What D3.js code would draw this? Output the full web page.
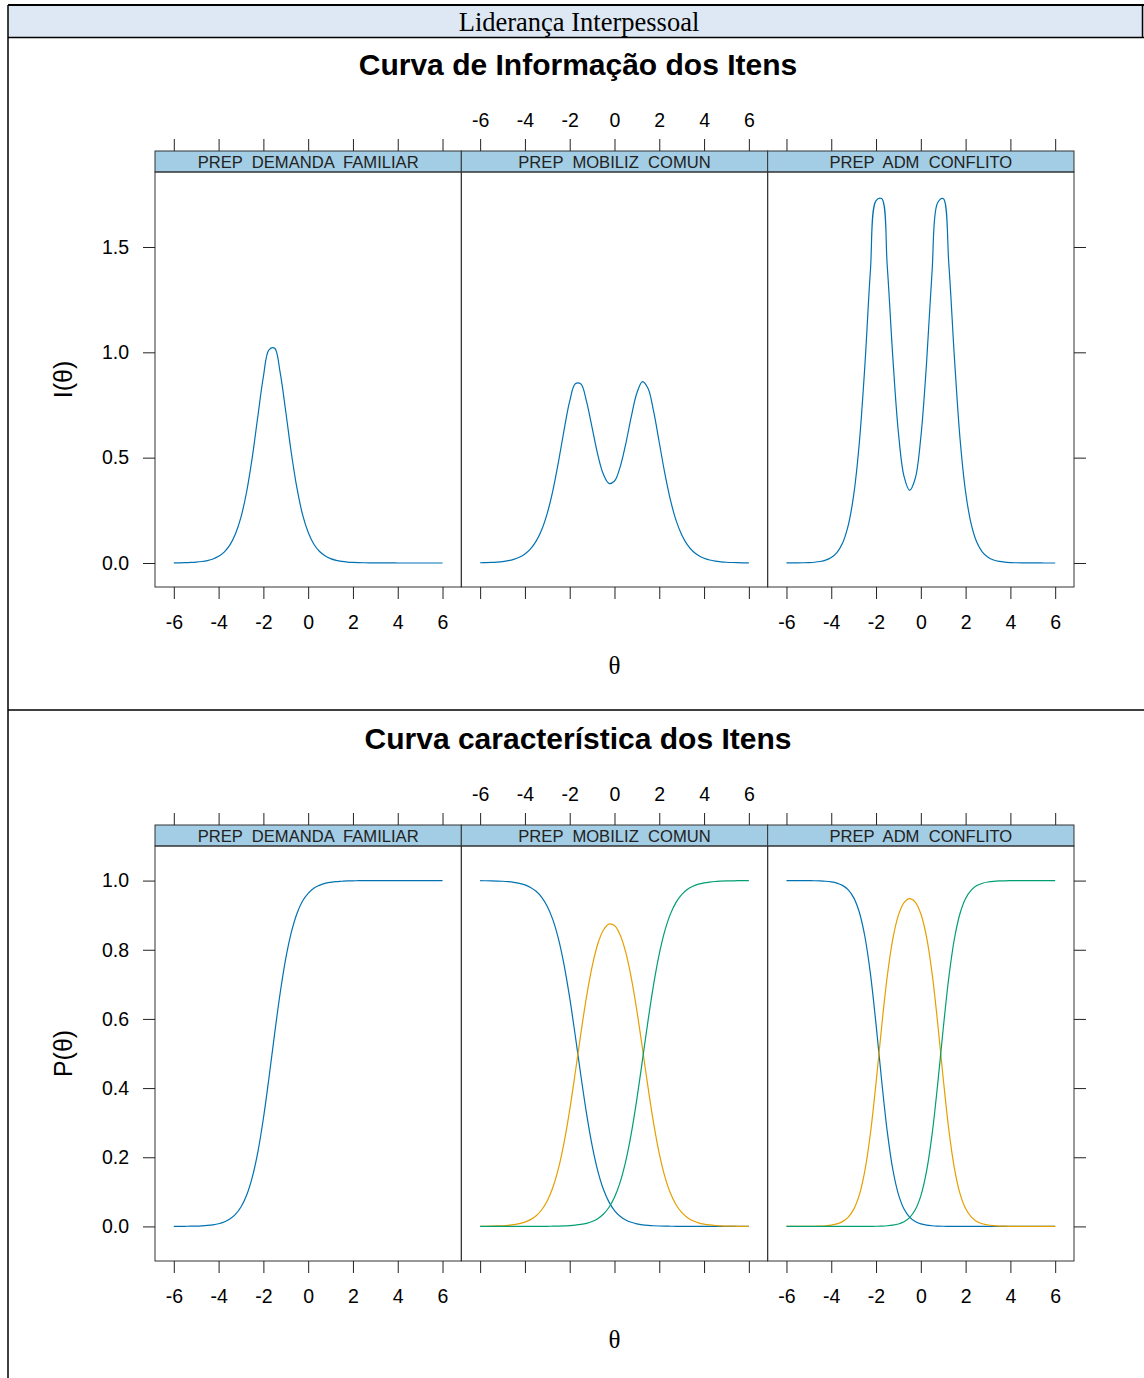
<!DOCTYPE html>
<html>
<head>
<meta charset="utf-8">
<script src="https://cdn.jsdelivr.net/npm/d3@7"></script>
<style>
  body { margin: 0; background: #fff; }
  svg { display: block; }
  text { font-family: "Liberation Sans", Arial, sans-serif; }
</style>
</head>
<body>
<svg id="chart" width="1144" height="1378"></svg>
<script>
// theta grid the curves were read at
const theta = [-6,-5.75,-5.5,-5.25,-5,-4.75,-4.5,-4.25,
  -4,-3.75,-3.5,-3.25,-3,-2.75,-2.5,-2.25,
  -2,-1.75,-1.5,-1.25,-1,-0.75,-0.5,-0.25,
  0,0.25,0.5,0.75,1,1.25,1.5,1.75,
  2,2.25,2.5,2.75,3,3.25,3.5,3.75,
  4,4.25,4.5,4.75,5,5.25,5.5,5.75,
  6]

const items = ['PREP  DEMANDA  FAMILIAR', 'PREP  MOBILIZ  COMUN', 'PREP  ADM  CONFLITO']

const xTicks = [-6, -4, -2, 0, 2, 4, 6]
const infoTicks = [0, 0.5, 1, 1.5]
const traceTicks = [0, 0.2, 0.4, 0.6, 0.8, 1]

// item information I(theta)
const infoDemanda = [0.0006,0.0009,0.0015,0.0026,0.0042,0.0070,0.0116,0.0192,
  0.0318,0.0517,0.0847,0.1376,0.218,0.337,0.499,0.694,
  0.884,1.012,1.020,0.904,0.718,0.521,0.355,0.230,
  0.146,0.090,0.0555,0.034,0.0205,0.0123,0.0075,0.0045,
  0.0027,0.0016,0.0010,0.0006,0.0004,0.0002,0.0001,0.0001,
  0,0,0,0,0,0,0,0,
  0]
const infoMobiliz = [0.0011,0.0017,0.0027,0.0043,0.0068,0.0108,0.0171,0.0270,
  0.0426,0.0667,0.1036,0.158,0.237,0.345,0.481,0.632,
  0.768,0.851,0.850,0.767,0.642,0.516,0.422,0.378,
  0.389,0.455,0.564,0.695,0.807,0.861,0.828,0.718,
  0.572,0.424,0.298,0.202,0.134,0.0868,0.0555,0.0354,
  0.0224,0.0142,0.0090,0.0057,0.0036,0.0023,0.0014,0.0009,
  0.0006]
const infoConflito = [0.0001,0.0003,0.0005,0.0010,0.0019,0.0036,0.0070,0.0134,
  0.0257,0.0491,0.0933,0.175,0.321,0.566,0.935,1.39,
  1.72,1.73,1.41,0.975,0.618,0.411,0.345,0.401,
  0.596,0.940,1.38,1.71,1.73,1.42,0.975,0.591,
  0.337,0.184,0.0982,0.0517,0.0271,0.0141,0.0073,0.0038,
  0.0020,0.0010,0.0005,0.0003,0.0001,0.0001,0,0,
  0]

// category probabilities P(theta)
const pDemanda = [0.0001,0.0002,0.0004,0.0006,0.0010,0.0017,0.0028,0.0047,
  0.0078,0.0128,0.0211,0.0346,0.0561,0.0900,0.141,0.214,
  0.312,0.430,0.556,0.675,0.775,0.851,0.905,0.941,
  0.963,0.978,0.986,0.992,0.995,0.997,0.998,0.999,
  0.999,1,1,1,1,1,1,1,
  1,1,1,1,1,1,1,1,
  1]

const pMobiliz1 = [0.9997,0.9995,0.9992,0.9987,0.9980,0.9968,0.9950,0.9921,
  0.9875,0.9802,0.9690,0.9516,0.9253,0.8863,0.8308,0.7556,
  0.6606,0.5507,0.4356,0.3271,0.2344,0.1616,0.1083,0.0710,
  0.0459,0.0294,0.0187,0.0119,0.0075,0.0047,0.0030,0.0019,
  0.0012,0.0007,0.0005,0.0003,0.0002,0.0001,0.0001,0,
  0,0,0,0,0,0,0,0,
  0]
const pMobiliz2 = [0.0003,0.0005,0.0008,0.0013,0.0020,0.0032,0.0050,0.0079,
  0.0125,0.0197,0.0309,0.0482,0.0744,0.1131,0.1683,0.2430,
  0.3371,0.4457,0.5587,0.6639,0.7514,0.8160,0.8565,0.8743,
  0.8699,0.8432,0.7930,0.7190,0.6235,0.5138,0.4011,0.2973,
  0.2107,0.1441,0.0958,0.0626,0.0404,0.0259,0.0164,0.0104,
  0.0066,0.0042,0.0026,0.0017,0.0010,0.0007,0.0004,0.0003,
  0.0002]
const pMobiliz3 = [0,0,0,0,0,0,0,0,
  0.0001,0.0001,0.0002,0.0002,0.0004,0.0006,0.0009,0.0014,
  0.0023,0.0036,0.0057,0.0090,0.0143,0.0225,0.0352,0.0547,
  0.0842,0.1274,0.1883,0.2691,0.3690,0.4815,0.5959,0.7008,
  0.7881,0.8552,0.9037,0.9371,0.9594,0.9741,0.9835,0.9896,
  0.9934,0.9958,0.9974,0.9983,0.9990,0.9993,0.9996,0.9997,
  0.9998]

const pConflito1 = [1,1,0.9999,0.9999,0.9997,0.9995,0.9990,0.9980,
  0.9962,0.9928,0.9862,0.9738,0.9508,0.9093,0.8390,0.7302,
  0.5843,0.4220,0.2750,0.1646,0.0928,0.0505,0.0269,0.0141,
  0.0074,0.0039,0.0020,0.0010,0.0005,0.0003,0.0001,0.0001,
  0,0,0,0,0,0,0,0,
  0,0,0,0,0,0,0,0,
  0]
const pConflito2 = [0,0,0.0001,0.0001,0.0003,0.0005,0.0010,0.0020,
  0.0038,0.0072,0.0138,0.0262,0.0492,0.0906,0.1609,0.2695,
  0.4152,0.5770,0.7231,0.8317,0.9001,0.9361,0.9476,0.9378,
  0.9041,0.8387,0.7333,0.5896,0.4279,0.2800,0.1681,0.0950,
  0.0517,0.0276,0.0145,0.0076,0.0040,0.0021,0.0011,0.0006,
  0.0003,0.0001,0.0001,0,0,0,0,0,
  0]
const pConflito3 = [0,0,0,0,0,0,0,0,
  0,0,0,0,0,0.0001,0.0001,0.0003,
  0.0005,0.0010,0.0019,0.0037,0.0070,0.0134,0.0255,0.0480,
  0.0885,0.1575,0.2647,0.4093,0.5716,0.7197,0.8318,0.9049,
  0.9483,0.9724,0.9855,0.9924,0.9960,0.9979,0.9989,0.9994,
  0.9997,0.9999,0.9999,1,1,1,1,1,
  1]

const colors = ['#0072B2', '#E69F00', '#009E73']

const svg = d3.select('#chart')

// page frame (table cell look)
svg.append('rect')
  .attr('x', 8).attr('y', 5).attr('width', 1136).attr('height', 32)
  .attr('fill', '#dde8f4')
const frame = [
  [8, 5, 1144, 5, 2],
  [8, 37.5, 1144, 37.5, 1.5],
  [8, 5, 8, 1378, 1.5],
  [1142.5, 5, 1142.5, 38, 1.5],
  [8, 710, 1144, 710, 1.5]
]
svg.selectAll('.frame').data(frame).enter().append('line')
  .attr('class', 'frame')
  .attr('x1', d => d[0]).attr('y1', d => d[1])
  .attr('x2', d => d[2]).attr('y2', d => d[3])
  .attr('stroke', '#000').attr('stroke-width', d => d[4])
svg.append('text')
  .attr('x', 579).attr('y', 22)
  .attr('text-anchor', 'middle').attr('dominant-baseline', 'central')
  .style('font-family', '"Liberation Serif", "Times New Roman", serif')
  .attr('font-size', 26.5)
  .text('Liderança Interpessoal')

const left = 155
const panelW = 306.33

function drawFigure(oy, title, yLab, panels, yDomain, yTicks, yFmt) {
  const g = svg.append('g').attr('transform', 'translate(0,' + oy + ')')
  const top = 172, bottom = 587, stripTop = 151

  g.append('text')
    .attr('x', 578).attr('y', 64)
    .attr('text-anchor', 'middle').attr('dominant-baseline', 'central')
    .attr('font-size', 30).attr('font-weight', 'bold')
    .text(title)

  const y = d3.scaleLinear().domain(yDomain).range([bottom, top])

  panels.forEach((series, i) => {
    const x0 = left + i * panelW
    const x = d3.scaleLinear().domain([-6.84, 6.84]).range([x0, x0 + panelW])

    // strip
    g.append('rect')
      .attr('x', x0).attr('y', stripTop).attr('width', panelW).attr('height', top - stripTop)
      .attr('fill', '#a3cde4').attr('stroke', '#333')
    g.append('text')
      .attr('x', x0 + panelW / 2).attr('y', (stripTop + top) / 2 + 0.5)
      .attr('text-anchor', 'middle').attr('dominant-baseline', 'central')
      .attr('font-size', 16.6).attr('fill', '#222')
      .style('white-space', 'pre')
      .text(items[i])

    // panel box
    g.append('rect')
      .attr('x', x0).attr('y', top).attr('width', panelW).attr('height', bottom - top)
      .attr('fill', 'none').attr('stroke', '#333')

    // x axes, labels alternate bottom / top like lattice
    const bot = g.append('g')
      .attr('transform', 'translate(0,' + bottom + ')')
      .call(d3.axisBottom(x).tickValues(xTicks).tickSize(12).tickPadding(16)
        .tickFormat(d => i === 1 ? '' : String(d)))
    const topAx = g.append('g')
      .attr('transform', 'translate(0,' + stripTop + ')')
      .call(d3.axisTop(x).tickValues(xTicks).tickSize(12).tickPadding(12)
        .tickFormat(d => i === 1 ? String(d) : ''))
    ;[bot, topAx].forEach(a => {
      a.select('.domain').remove()
      a.attr('font-size', 19.5).attr('font-family', '"Liberation Sans", Arial, sans-serif')
      a.selectAll('line').attr('stroke', '#222')
      a.selectAll('text').attr('fill', '#000')
    })

    // curves
    const line = d3.line()
      .x((d, k) => x(theta[k]))
      .y(d => y(d))
      .curve(d3.curveCatmullRom.alpha(0.5))
    series.forEach((s, k) => {
      g.append('path')
        .attr('d', line(s))
        .attr('fill', 'none')
        .attr('stroke', colors[k])
        .attr('stroke-width', 1.2)
    })
  })

  const yl = g.append('g')
    .attr('transform', 'translate(' + left + ',0)')
    .call(d3.axisLeft(y).tickValues(yTicks).tickSize(12).tickPadding(14).tickFormat(yFmt))
  const yr = g.append('g')
    .attr('transform', 'translate(' + (left + 3 * panelW) + ',0)')
    .call(d3.axisRight(y).tickValues(yTicks).tickSize(12).tickFormat(''))
  ;[yl, yr].forEach(a => {
    a.select('.domain').remove()
    a.attr('font-size', 19.5).attr('font-family', '"Liberation Sans", Arial, sans-serif')
    a.selectAll('line').attr('stroke', '#222')
    a.selectAll('text').attr('fill', '#000')
  })

  // axis titles
  g.append('text')
    .attr('transform', 'translate(63,' + (top + bottom) / 2 + ') rotate(-90)')
    .attr('text-anchor', 'middle').attr('dominant-baseline', 'central')
    .attr('font-size', 25)
    .text(yLab)
  g.append('text')
    .attr('x', left + 1.5 * panelW).attr('y', 665)
    .attr('text-anchor', 'middle').attr('dominant-baseline', 'central')
    .style('font-family', '"Liberation Serif", "Times New Roman", serif')
    .attr('font-size', 25)
    .text('θ')
}

drawFigure(0, 'Curva de Informação dos Itens', 'I(θ)',
  [[infoDemanda], [infoMobiliz], [infoConflito]],
  [-0.114, 1.856], infoTicks, d3.format('.1f'))

drawFigure(674, 'Curva característica dos Itens', 'P(θ)',
  [[pDemanda], [pMobiliz1, pMobiliz2, pMobiliz3], [pConflito1, pConflito2, pConflito3]],
  [-0.1, 1.1], traceTicks, d3.format('.1f'))
</script>
